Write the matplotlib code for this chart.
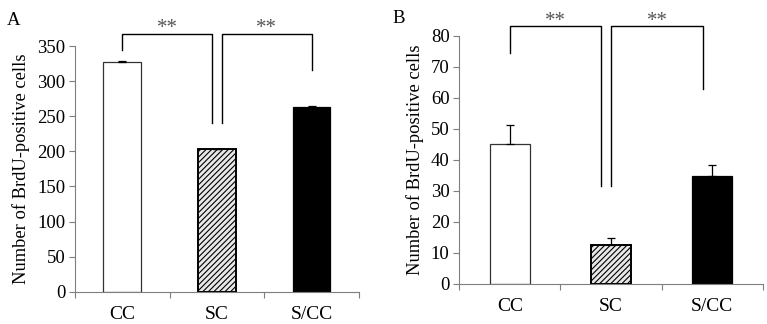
import matplotlib
matplotlib.use("Agg")
import matplotlib.pyplot as plt

plt.rcParams['font.family'] = ['Liberation Serif', 'DejaVu Serif']
plt.rcParams['hatch.linewidth'] = 0.8

groups = ["CC", "SC", "S/CC"]
ylabel = "Number of BrdU-positive cells"

# panel A
a_means = [328, 203, 263]
a_errs = [1.0, 0.5, 1.0]
# panel B
b_means = [45.2, 12.5, 34.8]
b_errs = [5.9, 2.2, 3.5]

# significance brackets: (x left, x right, y top, left leg end, right leg end)
a_brackets = [(0.0, 0.95, 367, 345, 240), (1.05, 2.0, 367, 240, 316)]
b_brackets = [(0.0, 0.9, 83.2, 74.3, 31.6), (1.0, 1.91, 83.2, 31.6, 62.7)]

gray = "#7f7f7f"


def draw_panel(ax, means, errs, ymax, ystep, brackets, letter, star_dy, letter_x, letter_y):
    x = list(range(len(groups)))
    faces = ["white", "#e8e8e8", "black"]
    hatches = ["", "//////", ""]
    edges = ["#333333", "black", "black"]
    lws = [0.9, 1.4, 0.9]
    for i in x:
        ax.bar(i, means[i], width=0.4, color=faces[i], edgecolor=edges[i],
               hatch=hatches[i], linewidth=lws[i], zorder=2)
        ax.errorbar(i, means[i], yerr=[[0], [errs[i]]], fmt="none",
                    ecolor="black", elinewidth=0.9, capsize=3, capthick=0.9, zorder=3)
    ax.set_xlim(-0.5, 2.5)
    ax.set_ylim(0, ymax)
    ax.set_yticks(range(0, ymax + 1, ystep))
    ax.set_xticks([-0.5, 0.5, 1.5, 2.5])
    ax.set_xticklabels([])
    ax.set_xticks(x, minor=True)
    ax.set_xticklabels(groups, minor=True)
    ax.tick_params(axis="x", which="major", direction="out", length=4, color=gray, width=0.8)
    ax.tick_params(axis="x", which="minor", length=0, pad=10, labelsize=14)
    ax.tick_params(axis="y", direction="out", length=4, color=gray, width=0.8, labelsize=13.5, pad=3)
    for s in ["top", "right"]:
        ax.spines[s].set_visible(False)
    for s in ["left", "bottom"]:
        ax.spines[s].set_color(gray)
        ax.spines[s].set_linewidth(0.8)
    ax.set_ylabel(ylabel, fontsize=13.3, labelpad=5)
    for (x0, x1, top, l0, l1) in brackets:
        ax.plot([x0, x0, x1, x1], [l0, top, top, l1], color="black", lw=1.0,
                clip_on=False, zorder=4)
        ax.text((x0 + x1) / 2, top + star_dy, "**", ha="center", va="bottom",
                fontsize=15, color="#555555", clip_on=False)
    ax.text(letter_x, letter_y, letter, transform=ax.transAxes, fontsize=13.5,
            ha="left", va="bottom")


fig = plt.figure(figsize=(7.67, 3.24), dpi=100)
axA = fig.add_axes([0.0978, 0.0997, 0.370, 0.758])
axB = fig.add_axes([0.5988, 0.1235, 0.3956, 0.766])

draw_panel(axA, a_means, a_errs, 350, 50, a_brackets, "A", -6, -0.24, 1.07)
draw_panel(axB, b_means, b_errs, 80, 10, b_brackets, "B", -1.5, -0.22, 1.034)

fig.savefig("out.png", dpi=100)
